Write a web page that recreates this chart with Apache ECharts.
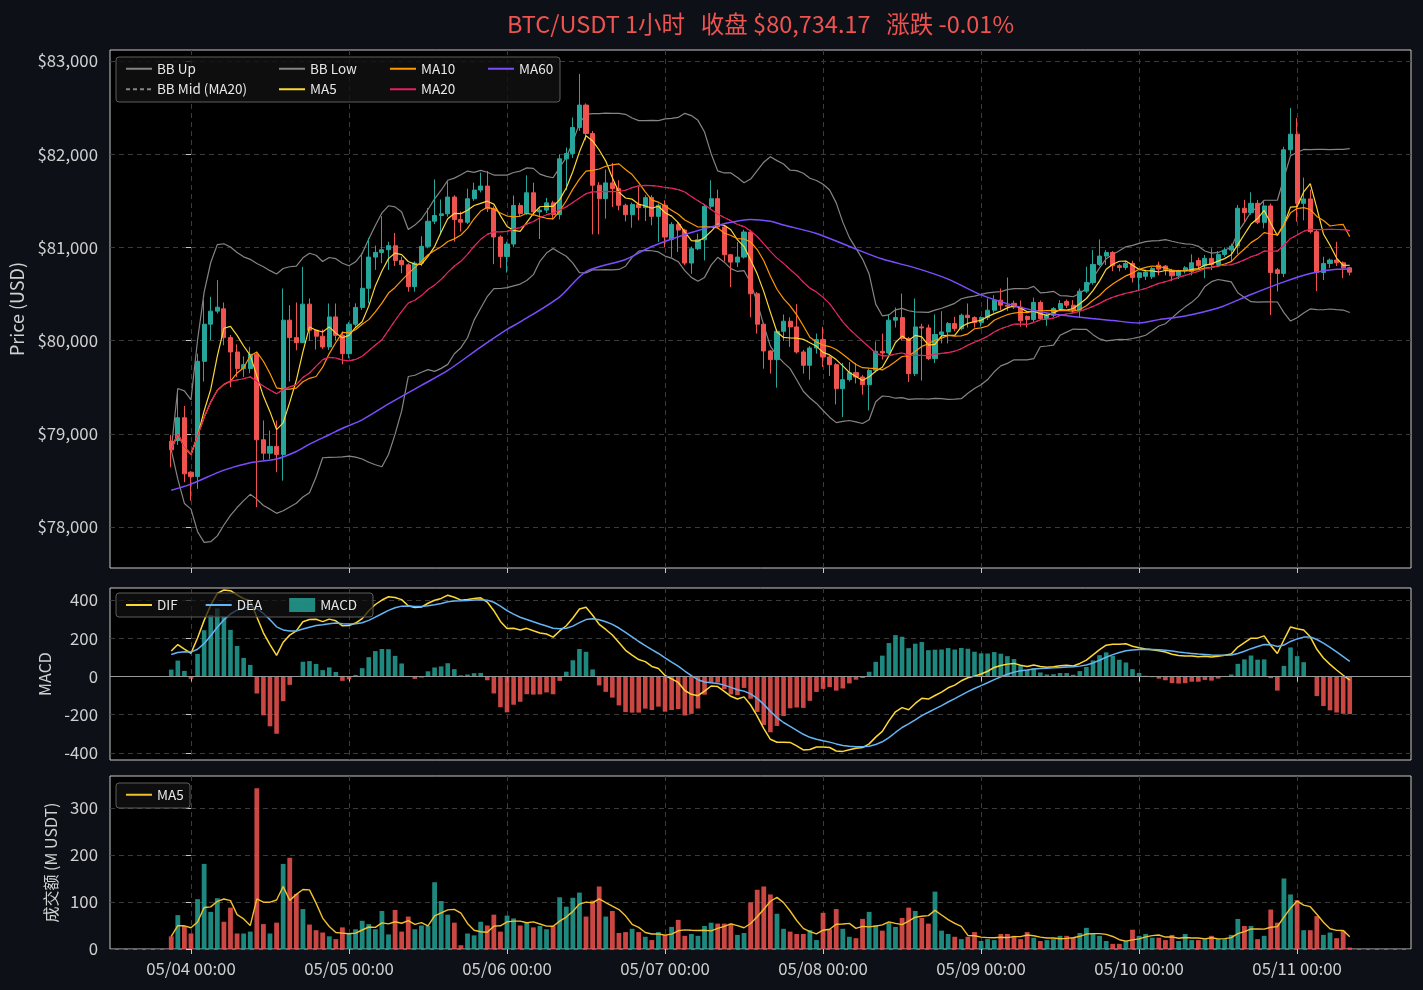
<!DOCTYPE html>
<html>
<head>
<meta charset="utf-8">
<title>BTC/USDT 1小时</title>
<script src="https://cdn.jsdelivr.net/npm/echarts@6/dist/echarts.min.js"></script>
<style>
  html, body { margin: 0; padding: 0; background: #0d1117; }
  #chart { width: 1423px; height: 990px; }
</style>
</head>
<body>
<div id="chart"></div>
<script>
// 第一根K线相对 05/04 00:00 的小时数
const firstHour = -3

const opens = [
  78921, 78928, 79172, 78588, 78541, 79778, 80176, 80316, 80341, 80032,
  79878, 79699, 79700, 79853, 78936, 78792, 78864, 78778, 80219, 80032,
  79978, 80391, 80111, 80047, 79932, 80254, 80057, 79860, 80176, 80356,
  80561, 80896, 80946, 80975, 81018, 80860, 80813, 80579, 80831, 81011,
  81281, 81342, 81360, 81540, 81299, 81270, 81522, 81615, 81658, 81414,
  81112, 80903, 81036, 81450, 81363, 81586, 81381, 81400, 81478, 81353,
  81950, 82007, 82287, 82527, 82222, 81667, 81523, 81692, 81631, 81452,
  81351, 81459, 81427, 81534, 81333, 81452, 81086, 81247, 81186, 80832,
  80986, 81082, 81441, 81523, 81219, 80921, 80842, 80896, 81165, 80502,
  80176, 79889, 79796, 80100, 80208, 80147, 79878, 79735, 79921, 80011,
  79824, 79742, 79484, 79581, 79656, 79610, 79527, 79681, 79885, 79867,
  80219, 80247, 80022, 79645, 80147, 80136, 79807, 80065, 80093, 80183,
  80129, 80272, 80247, 80193, 80247, 80326, 80434, 80380, 80400, 80360,
  80260, 80226, 80409, 80237, 80272, 80344, 80420, 80380, 80326, 80530,
  80624, 80817, 80907, 80946, 80803, 80785, 80828, 80677, 80690, 80685,
  80810, 80800, 80756, 80695, 80749, 80740, 80860, 80803, 80882, 80817,
  80925, 80971, 81014, 81420, 81373, 81473, 81269, 81445, 80760, 80721,
  82047, 82215, 81473, 81520, 81169, 80731, 80828, 80864, 80835, 80781,
]
const closes = [
  78828, 79172, 78570, 78541, 79778, 80176, 80316, 80358, 80032, 79878,
  79699, 79742, 79853, 78936, 78792, 78864, 78778, 80219, 80032, 79978,
  80391, 80111, 80047, 79932, 80254, 80057, 79860, 80176, 80356, 80561,
  80896, 80946, 80975, 81018, 80860, 80813, 80579, 80831, 81011, 81281,
  81342, 81360, 81540, 81299, 81270, 81522, 81615, 81658, 81414, 81112,
  80903, 81036, 81450, 81363, 81586, 81381, 81400, 81478, 81353, 81950,
  82007, 82287, 82527, 82222, 81667, 81523, 81692, 81631, 81452, 81351,
  81459, 81427, 81534, 81333, 81452, 81111, 81247, 81186, 80832, 80986,
  81082, 81441, 81523, 81219, 80921, 80842, 80896, 81165, 80502, 80176,
  79889, 79796, 80100, 80208, 80147, 79878, 79735, 79921, 80011, 79824,
  79742, 79484, 79581, 79656, 79610, 79527, 79681, 79885, 79867, 80219,
  80247, 80022, 79645, 80147, 80136, 79807, 80065, 80093, 80183, 80129,
  80272, 80247, 80193, 80247, 80326, 80434, 80380, 80369, 80360, 80212,
  80226, 80409, 80237, 80272, 80344, 80398, 80380, 80326, 80530, 80624,
  80817, 80907, 80946, 80803, 80785, 80828, 80677, 80728, 80735, 80774,
  80767, 80756, 80695, 80749, 80781, 80835, 80803, 80882, 80817, 80925,
  80971, 81014, 81420, 81373, 81473, 81269, 81445, 80731, 80721, 82047,
  82215, 81473, 81520, 81169, 80731, 80828, 80864, 80835, 80781, 80734.17,
]
const lows = [
  78640, 78880, 78480, 78283, 78409, 79560, 80004, 80290, 79950, 79500,
  79610, 79610, 79650, 78212, 78720, 78730, 78588, 78498, 79560, 79896,
  79978, 80000, 79903, 79910, 79900, 80000, 79746, 79810, 80150, 80330,
  80399, 80759, 80830, 80759, 80800, 80723, 80525, 80525, 80800, 80990,
  81250, 81137, 81330, 81061, 81170, 81250, 81500, 81590, 81380, 80820,
  80780, 80730, 81000, 81330, 81350, 81340, 81090, 81370, 81300, 81300,
  81613, 81960, 82250, 82150, 81140, 81140, 81308, 81434, 81398, 81280,
  81211, 81290, 81283, 81237, 81057, 81000, 80896, 80950, 80810, 80717,
  80970, 80860, 81420, 81200, 80850, 80573, 80790, 80880, 80250, 80075,
  79699, 79645, 79495, 79996, 79932, 79860, 79645, 79580, 79860, 79717,
  79620, 79315, 79179, 79560, 79540, 79420, 79251, 79660, 79796, 79850,
  80140, 80000, 79556, 79620, 79570, 79790, 79760, 79970, 79970, 80100,
  80110, 80140, 80140, 80150, 80220, 80300, 80326, 80320, 80340, 80150,
  80140, 80200, 80220, 80158, 80250, 80320, 80350, 80300, 80250, 80510,
  80600, 80800, 80810, 80745, 80742, 80760, 80624, 80530, 80650, 80660,
  80700, 80700, 80638, 80660, 80720, 80700, 80767, 80670, 80756, 80800,
  80900, 80846, 80930, 81276, 81350, 81250, 81204, 80273, 80526, 80681,
  82000, 81276, 81290, 81150, 80531, 80650, 80780, 80800, 80670, 80700,
]
const highs = [
  78990, 79459, 79298, 78600, 79860, 80434, 80470, 80649, 80409, 80060,
  79960, 79830, 79932, 79880, 79143, 79036, 79143, 80559, 80380, 80409,
  80792, 80452, 80120, 80120, 80398, 80398, 80100, 80200, 80400, 80939,
  81101, 81020, 81335, 81060, 81155, 80900, 80830, 80850, 81119, 81424,
  81730, 81514, 81701, 81560, 81385, 81630, 81694, 81802, 81820, 81440,
  81130, 81060, 81557, 81478, 81773, 81694, 81420, 81532, 81500, 82000,
  82072, 82394, 82860, 82545, 82250, 81700, 81835, 81907, 81720, 81470,
  81480, 81649, 81560, 81560, 81470, 81505, 81270, 81270, 81200, 81010,
  81147, 81460, 81720, 81620, 81230, 80930, 81057, 81190, 81190, 80520,
  80190, 79900, 80120, 80280, 80250, 80391, 79900, 79940, 80075, 80147,
  79840, 79760, 79760, 79770, 79760, 79630, 79700, 79990, 80075, 80280,
  80355, 80505, 80040, 80452, 80180, 80172, 80280, 80316, 80200, 80255,
  80290, 80398, 80260, 80260, 80452, 80487, 80559, 80677, 80430, 80430,
  80270, 80462, 80430, 80290, 80360, 80434, 80440, 80434, 80559, 80792,
  80971, 81086, 80971, 80960, 80820, 80857, 80857, 80740, 80760, 80790,
  80846, 80810, 80770, 80760, 80800, 80925, 80890, 80918, 80990, 80960,
  81000, 81040, 81455, 81509, 81591, 81509, 81491, 81470, 80780, 82080,
  82495, 82387, 81749, 81620, 81190, 80900, 80880, 81060, 80850, 80790,
]
// 成交额 (M USDT)
const volumes = [
  27, 72, 49, 33, 106, 181, 79, 108, 58, 88,
  33, 33, 37, 342, 53, 33, 56, 181, 194, 117,
  85, 52, 40, 35, 27, 21, 46, 33, 42, 60,
  53, 42, 81, 31, 83, 37, 69, 42, 50, 49,
  142, 102, 73, 56, 8, 33, 29, 58, 50, 73,
  37, 71, 65, 50, 56, 46, 49, 42, 49, 110,
  90, 109, 120, 69, 103, 133, 69, 81, 34, 36,
  43, 36, 26, 19, 36, 30, 47, 62, 28, 32,
  28, 49, 56, 54, 54, 54, 30, 34, 99, 126,
  133, 116, 75, 43, 37, 32, 32, 40, 19, 77,
  42, 85, 43, 26, 23, 64, 79, 51, 39, 56,
  47, 66, 88, 81, 66, 54, 122, 39, 32, 26,
  21, 26, 36, 17, 21, 19, 32, 32, 28, 21,
  36, 24, 17, 19, 21, 28, 28, 24, 34, 45,
  32, 28, 17, 11, 11, 17, 41, 28, 32, 24,
  24, 19, 30, 17, 32, 19, 19, 21, 28, 21,
  21, 30, 64, 49, 49, 21, 28, 84, 56, 150,
  116, 104, 40, 40, 70, 30, 35, 23, 39, 3,
]
// MA60 点 (小时, 价格)
const ma60Hours = [-3, 0, 5, 9, 13, 16, 18, 21, 23, 26, 30, 35, 39, 44, 48, 50, 56, 60, 66, 70, 76, 81, 85, 88, 90, 95, 100, 105, 110, 115, 120, 125, 130, 135, 140, 144, 147, 151, 156, 161, 166, 170, 174, 176]
const ma60Values = [78395, 78460, 78610, 78690, 78730, 78810, 78890, 78990, 79060, 79150, 79320, 79520, 79680, 79930, 80120, 80200, 80470, 80740, 80870, 81010, 81160, 81255, 81300, 81280, 81240, 81150, 81010, 80875, 80780, 80660, 80490, 80375, 80295, 80250, 80215, 80190, 80225, 80265, 80350, 80495, 80630, 80720, 80765, 80768]
// 第一根K线处的 EMA12, EMA26, DEA
const macdSeed = [78622, 78489, 115]

const tickHours = [0, 24, 48, 72, 96, 120, 144, 168]
const dayLabels = ['05/04 00:00', '05/05 00:00', '05/06 00:00', '05/07 00:00', '05/08 00:00', '05/09 00:00', '05/10 00:00', '05/11 00:00']
const priceTicks = [78000, 79000, 80000, 81000, 82000, 83000]
const macdTicks = [-400, -200, 0, 200, 400]
const volTicks = [0, 100, 200, 300]

;(function () {
  const hours = closes.map((_, i) => firstHour + i)
  const pts = (vals) => vals.map((v, i) => [hours[i], v])

  function movingAvg(list, n) {
    return list.map((_, i) => {
      const part = list.slice(Math.max(0, i - n + 1), i + 1)
      return part.reduce((a, b) => a + b, 0) / part.length
    })
  }
  function movingStd(list, n) {
    return list.map((_, i) => {
      const part = list.slice(Math.max(0, i - n + 1), i + 1)
      if (part.length < 2) return 0
      const m = part.reduce((a, b) => a + b, 0) / part.length
      const s = part.reduce((a, b) => a + (b - m) * (b - m), 0)
      return Math.sqrt(s / (part.length - 1))
    })
  }

  const ma5 = movingAvg(closes, 5)
  const ma10 = movingAvg(closes, 10)
  const ma20 = movingAvg(closes, 20)
  const std20 = movingStd(closes, 20)
  const bbUp = ma20.map((m, i) => m + 2 * std20[i])
  const bbLow = ma20.map((m, i) => m - 2 * std20[i])
  const volMa5 = movingAvg(volumes, 5)

  // MACD
  let e12 = macdSeed[0], e26 = macdSeed[1], dea = macdSeed[2]
  const dif = [], deaArr = [], hist = []
  closes.forEach((c, i) => {
    if (i > 0) {
      e12 = e12 + (2 / 13) * (c - e12)
      e26 = e26 + (2 / 27) * (c - e26)
    }
    const d = e12 - e26
    if (i > 0) dea = dea + 0.2 * (d - dea)
    dif.push(d)
    deaArr.push(dea)
    hist.push(2 * (d - dea))
  })

  const font = 'Noto Sans CJK SC'
  const frameColor = '#c8c8c8'
  const gridColor = '#3a3a3a'
  const labelColor = '#d0d0d0'
  const upColor = '#26a69a'
  const downColor = '#ef5350'
  const upBar = 'rgba(38,166,154,0.82)'
  const downBar = 'rgba(239,83,80,0.85)'
  const xMin = -12.3
  const xMax = 185.3
  const tickFont = 16.8

  function makeX(gridIndex, showLabel) {
    return {
      type: 'value', gridIndex, min: xMin, max: xMax,
      axisLine: { show: false },
      axisTick: { show: true, customValues: tickHours, length: 5, lineStyle: { color: frameColor } },
      axisLabel: {
        show: showLabel, customValues: tickHours, margin: 11,
        color: labelColor, fontSize: tickFont, fontFamily: font,
        formatter: (v) => dayLabels[tickHours.indexOf(v)] || '',
      },
      splitLine: { show: true, lineStyle: { color: gridColor, type: [5, 4] } },
    }
  }
  function makeY(gridIndex, min, max, ticks, fmt, name, gap, nameSize) {
    return {
      type: 'value', gridIndex, min, max, scale: true,
      name, nameLocation: 'middle', nameGap: gap,
      nameTextStyle: { color: labelColor, fontSize: nameSize, fontFamily: font },
      axisLine: { show: false },
      axisTick: { show: true, customValues: ticks, length: 5, lineStyle: { color: frameColor } },
      axisLabel: { customValues: ticks, formatter: fmt, color: labelColor, fontSize: tickFont, fontFamily: font, margin: 12 },
      splitLine: { show: true, lineStyle: { color: gridColor, type: [5, 4] } },
    }
  }
  const lineSeries = (name, data, color, width, extra) => Object.assign({
    name, type: 'line', data, symbol: 'none', showSymbol: false,
    lineStyle: { color, width }, itemStyle: { color }, z: 4, silent: true,
  }, extra || {})

  const legendText = { color: '#e8e8e8', fontSize: 13.5, fontFamily: font }
  const legendBase = {
    orient: 'vertical', top: 62, itemWidth: 26, itemHeight: 14, itemGap: 7,
    padding: 0, selectedMode: false, textStyle: legendText, z: 10,
    itemStyle: { opacity: 0 },
  }

  let myChart = echarts.init(document.getElementById('chart'))
  let options = {
    animation: false,
    backgroundColor: '#0d1117',
    title: {
      // 标题居中于绘图区
      text: 'BTC/USDT 1小时   收盘 $80,734.17   涨跌 -0.01%',
      left: 502, top: 7,
      textStyle: { color: downColor, fontSize: 23.5, fontWeight: 'normal', fontFamily: font },
    },
    grid: [
      { left: 110, right: 12, top: 50, height: 518 },
      { left: 110, right: 12, top: 588, height: 172 },
      { left: 110, right: 12, top: 776, height: 173 },
    ].map((g) => Object.assign(g, { show: true, backgroundColor: '#000', borderColor: frameColor, borderWidth: 1 })),
    xAxis: [makeX(0, false), makeX(1, false), makeX(2, true)],
    yAxis: [
      makeY(0, 77560, 83118, priceTicks, (v) => '$' + v.toLocaleString('en-US'), 'Price (USD)', 82, 18),
      makeY(1, -437, 463, macdTicks, (v) => String(v), 'MACD', 53, 16),
      makeY(2, 0, 368, volTicks, (v) => String(v), '成交额 (M USDT)', 48, 16),
    ],
    legend: [
      Object.assign({}, legendBase, { left: 125, data: ['BB Up', 'BB Mid (MA20)'] }),
      Object.assign({}, legendBase, { left: 278, data: ['BB Low', 'MA5'] }),
      Object.assign({}, legendBase, { left: 389, data: ['MA10', 'MA20'] }),
      Object.assign({}, legendBase, { left: 487, data: ['MA60'] }),
      Object.assign({}, legendBase, {
        orient: 'horizontal', left: 125, top: 598, itemGap: 27,
        data: ['DIF', 'DEA', { name: 'MACD', icon: 'rect', itemStyle: { color: upBar, opacity: 1 } }],
      }),
      Object.assign({}, legendBase, { left: 125, top: 788, data: ['volMA5'], formatter: () => 'MA5' }),
    ],
    graphic: [
      { type: 'rect', z: 8, shape: { x: 116, y: 57, width: 444, height: 45, r: 3 }, style: { fill: 'rgba(18,18,18,0.8)', stroke: '#5c5c5c', lineWidth: 1 } },
      { type: 'rect', z: 8, shape: { x: 116, y: 593, width: 257, height: 24, r: 3 }, style: { fill: 'rgba(18,18,18,0.7)', stroke: '#5c5c5c', lineWidth: 1 } },
      { type: 'rect', z: 8, shape: { x: 116, y: 783, width: 74, height: 25, r: 3 }, style: { fill: 'rgba(18,18,18,0.8)', stroke: '#5c5c5c', lineWidth: 1 } },
    ],
    series: [
      // 布林带填充
      {
        name: 'bbBase', type: 'line', data: pts(bbLow), stack: 'bb', symbol: 'none',
        lineStyle: { opacity: 0 }, silent: true, z: 1,
      },
      {
        name: 'bbFill', type: 'line', data: pts(bbUp.map((u, i) => u - bbLow[i])), stack: 'bb', symbol: 'none',
        lineStyle: { opacity: 0 }, areaStyle: { color: 'rgba(255,255,255,0.05)' }, silent: true, z: 1,
      },
      lineSeries('BB Up', pts(bbUp), '#858585', 1.2, { z: 2 }),
      lineSeries('BB Mid (MA20)', pts(ma20), '#858585', 1, { z: 2, lineStyle: { color: '#858585', width: 1, type: [4, 3] } }),
      lineSeries('BB Low', pts(bbLow), '#858585', 1.2, { z: 2 }),
      {
        name: 'K', type: 'candlestick', barWidth: 4.6, z: 3,
        encode: { x: 0, y: [1, 2, 3, 4] },
        data: closes.map((c, i) => [hours[i], opens[i], c, lows[i], highs[i]]),
        itemStyle: { color: upColor, color0: downColor, borderColor: upColor, borderColor0: downColor, borderWidth: 1 },
      },
      lineSeries('MA5', pts(ma5), '#fdd835', 1.2),
      lineSeries('MA10', pts(ma10), '#ff9800', 1.2),
      lineSeries('MA20', pts(ma20), '#e91e63', 1.2),
      lineSeries('MA60', ma60Hours.map((h, i) => [h, ma60Values[i]]), '#7c4dff', 1.5, { smooth: 0.3 }),
      // MACD
      {
        name: 'MACD', type: 'bar', xAxisIndex: 1, yAxisIndex: 1, barWidth: 4.6, silent: true,
        data: pts(hist),
        itemStyle: { color: (p) => (p.value[1] >= 0 ? upBar : downBar) },
        markLine: {
          silent: true, symbol: 'none', label: { show: false },
          lineStyle: { color: '#9a9a9a', type: 'solid', width: 1 },
          data: [{ yAxis: 0 }],
        },
      },
      lineSeries('DIF', pts(dif), '#fdd835', 1.5, { xAxisIndex: 1, yAxisIndex: 1 }),
      lineSeries('DEA', pts(deaArr), '#64b5f6', 1.5, { xAxisIndex: 1, yAxisIndex: 1 }),
      // 成交额
      {
        name: 'VOL', type: 'bar', xAxisIndex: 2, yAxisIndex: 2, barWidth: 4.8, silent: true,
        data: volumes.map((v, i) => ({
          value: [hours[i], v],
          itemStyle: { color: closes[i] >= opens[i] ? upBar : downBar },
        })),
      },
      lineSeries('volMA5', pts(volMa5), '#f2c12e', 1.4, { xAxisIndex: 2, yAxisIndex: 2 }),
    ],
  }
  myChart.setOption(options)
  window.addEventListener('resize', () => {
    myChart.resize()
  })
})()
</script>
</body>
</html>
